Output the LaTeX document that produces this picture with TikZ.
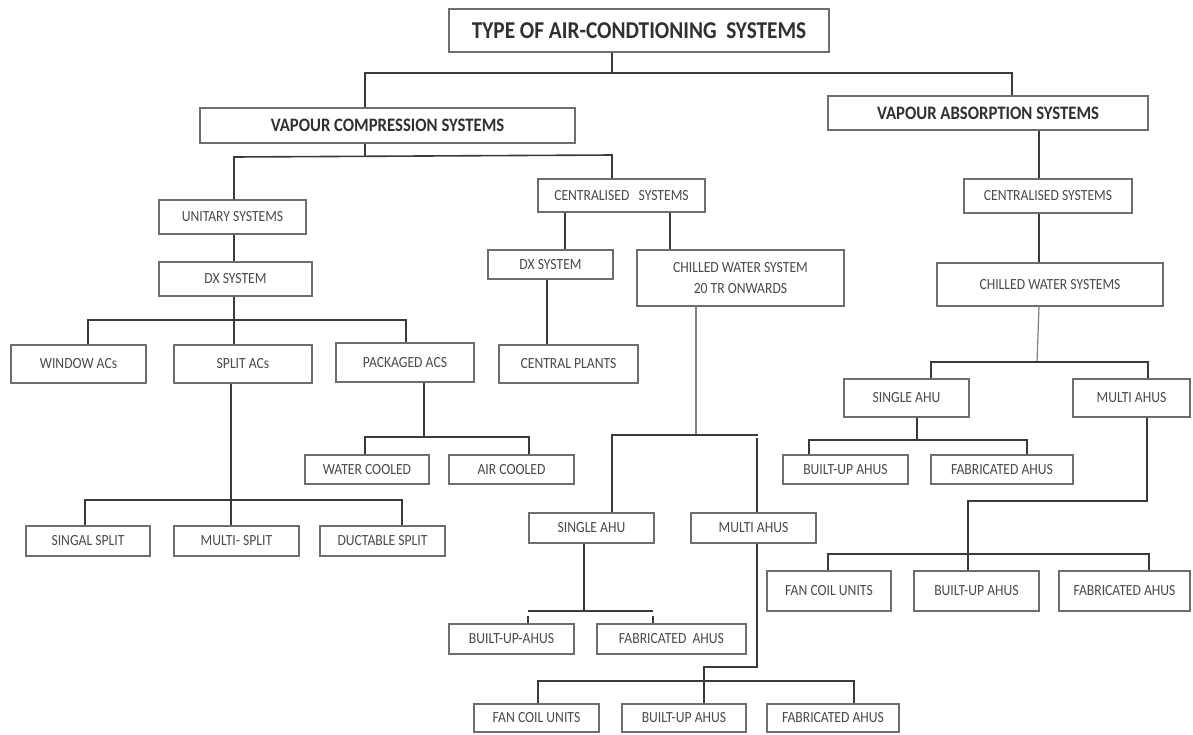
\documentclass[tikz,border=0pt]{standalone}
\usepackage{fontspec}
\setmainfont{Carlito}[FakeStretch=0.88]
\definecolor{boxgray}{HTML}{6E6E6E}
\definecolor{linegray}{HTML}{3A3A3A}
\definecolor{txtgray}{HTML}{4A4A4A}
\definecolor{ttlgray}{HTML}{303030}
\tikzset{
  box/.style={draw=boxgray, line width=1.3pt, fill=white, inner sep=0pt, align=center,
    text=txtgray, font=\fontsize{15.5}{20.5}\selectfont},
  bigbox/.style={box, text=ttlgray, font=\fontsize{19}{22}\selectfont\bfseries},
  ttlbox/.style={box, text=ttlgray, font=\fontsize{24.2}{27}\selectfont\bfseries},
  conn/.style={draw=linegray, line width=1.6pt},
  thinconn/.style={draw=gray, line width=1.2pt}
}
\newcommand\bx[7][]{\node[box,#1,minimum width={(#5-#3)*1pt},minimum height={(#6-#4)*1pt}] (#2) at ({(#3+#5)/2},{(#4+#6)/2}) {#7};}
\begin{document}
\begin{tikzpicture}[x=1pt,y=-1pt]
\useasboundingbox (0,0) rectangle (1193,734);
% ---------- boxes ----------
\bx[ttlbox]{title}{449}{9}{829}{52}{TYPE OF AIR-CONDTIONING\ \ SYSTEMS}
\bx[bigbox]{vc}{200}{108}{575}{143}{VAPOUR COMPRESSION SYSTEMS}
\bx[bigbox]{va}{828}{96}{1148}{130}{VAPOUR ABSORPTION SYSTEMS}
\bx{unit}{159}{200}{306}{234}{UNITARY SYSTEMS}
\bx{dxa}{159}{262}{312}{296}{DX SYSTEM}
\bx{win}{11}{345}{146}{383}{WINDOW ACs}
\bx{split}{174}{345}{312}{383}{SPLIT ACs}
\bx{pack}{336}{343}{474}{382}{PACKAGED ACS}
\bx{ss}{26}{526}{150}{556}{SINGAL SPLIT}
\bx{ms}{174}{526}{299}{556}{MULTI- SPLIT}
\bx{ds}{320}{526}{445}{556}{DUCTABLE SPLIT}
\bx{wc}{305}{455}{429}{484}{WATER COOLED}
\bx{ac}{449}{455}{574}{484}{AIR COOLED}
\bx{csa}{538}{179}{705}{212}{CENTRALISED\ \ \ SYSTEMS}
\bx{dxb}{488}{250}{613}{279}{DX SYSTEM}
\bx{cwa}{637}{250}{844}{306}{CHILLED WATER SYSTEM\\20 TR ONWARDS}
\bx{cp}{499}{345}{638}{383}{CENTRAL PLANTS}
\bx{sahua}{529}{513}{654}{543}{SINGLE AHU}
\bx{mahua}{691}{513}{816}{543}{MULTI AHUS}
\bx{bua}{449}{624}{574}{654}{BUILT-UP-AHUS}
\bx{faba}{597}{624}{746}{654}{FABRICATED\ \ AHUS}
\bx{fcua}{474}{704}{599}{732}{FAN COIL UNITS}
\bx{buab}{622}{704}{746}{732}{BUILT-UP AHUS}
\bx{fabab}{767}{704}{899}{732}{FABRICATED AHUS}
\bx{csb}{964}{179}{1132}{213}{CENTRALISED SYSTEMS}
\bx{cwb}{937}{263}{1163}{306}{CHILLED WATER SYSTEMS}
\bx{sahub}{844}{379}{969}{417}{SINGLE AHU}
\bx{mahub}{1073}{379}{1190}{417}{MULTI AHUS}
\bx{bub}{783}{455}{908}{484}{BUILT-UP AHUS}
\bx{fabb}{931}{455}{1073}{484}{FABRICATED AHUS}
\bx{fcub}{767}{571}{891}{611}{FAN COIL UNITS}
\bx{bubb}{914}{571}{1039}{611}{BUILT-UP AHUS}
\bx{fabbb}{1059}{571}{1190}{611}{FABRICATED AHUS}
% ---------- junction coordinates ----------
\coordinate (t0) at (612,73);  \coordinate (t0l) at (365,73);  \coordinate (t0r) at (1012,73);
\coordinate (v0) at (365,157); \coordinate (v0l) at (234,157); \coordinate (v0r) at (612,155);
\coordinate (d0) at (234,320); \coordinate (d0l) at (88,320);  \coordinate (d0r) at (406,320);
\coordinate (s0) at (231,500); \coordinate (s0l) at (85,500);  \coordinate (s0r) at (402,500);
\coordinate (p0) at (424,437); \coordinate (p0l) at (365,437); \coordinate (p0r) at (529,437);
\coordinate (ca) at (565,0);   \coordinate (cb) at (670,0);    \coordinate (dx) at (547,0);
\coordinate (w0) at (696,435); \coordinate (w0l) at (612,435); \coordinate (w0r) at (757,435);
\coordinate (a0) at (584,611); \coordinate (a0l) at (528,611); \coordinate (a0r) at (653,611);
\coordinate (m0) at (757,667); \coordinate (m1) at (704,667);
\coordinate (m2) at (704,681); \coordinate (m2l) at (538,681); \coordinate (m2r) at (854,681);
\coordinate (vb) at (1039,0);
\coordinate (r0) at (1037,362); \coordinate (r0l) at (931,362); \coordinate (r0r) at (1148,362);
\coordinate (g0) at (917,440); \coordinate (g0l) at (809,440); \coordinate (g0r) at (1027,440);
\coordinate (n0) at (1147,501); \coordinate (n1) at (968,501);
\coordinate (n2) at (968,554); \coordinate (n2l) at (828,554); \coordinate (n2r) at (1149,554);
% ---------- connectors ----------
\draw[conn] (title.south -| t0) -- (t0);
\draw[conn] (vc.north -| t0l) -- (t0l) -- (t0r) -- (va.north -| t0r);
\draw[conn] (vc.south -| v0) -- (v0);
\draw[conn] (unit.north -| v0l) -- (v0l) -- (v0r) -- (csa.north -| v0r);
\draw[conn] (unit.south -| v0l) -- (dxa.north -| v0l);
\draw[conn] (dxa.south -| d0) -- (split.north -| d0);
\draw[conn] (win.north -| d0l) -- (d0l) -- (d0r) -- (pack.north -| d0r);
\draw[conn] (split.south -| s0) -- (ms.north -| s0);
\draw[conn] (ss.north -| s0l) -- (s0l) -- (s0r) -- (ds.north -| s0r);
\draw[conn] (pack.south -| p0) -- (p0);
\draw[conn] (wc.north -| p0l) -- (p0l) -- (p0r) -- (ac.north -| p0r);
\draw[conn] (csa.south -| ca) -- (dxb.north -| ca);
\draw[conn] (csa.south -| cb) -- (cwa.north -| cb);
\draw[conn] (dxb.south -| dx) -- (cp.north -| dx);
\draw[thinconn] (cwa.south -| w0) -- (w0);
\draw[conn] (sahua.north -| w0l) -- (w0l) -- ([xshift=1pt]w0r) ([yshift=-3pt]w0r) -- (mahua.north -| w0r);
\draw[conn] (sahua.south -| a0) -- (a0);
\draw[conn] ([yshift=-5pt]a0l) -- (bua.north -| a0l);
\draw[conn] ([yshift=-5pt]a0r) -- (faba.north -| a0r);
\draw[conn] (a0l) -- (a0r);
\draw[conn] (mahua.south -| m0) -- (m0) -- (m1) -- (buab.north -| m1);
\draw[conn] (fcua.north -| m2l) -- (m2l) -- (m2r) -- ([yshift=-4pt]m2r) (m2r) -- (fabab.north -| m2r);
\draw[conn] (va.south -| vb) -- (csb.north -| vb);
\draw[conn] (csb.south -| vb) -- (cwb.north -| vb);
\draw[thinconn] (cwb.south -| vb) -- (r0);
\draw[conn] (sahub.north -| r0l) -- (r0l) -- (r0r) -- (mahub.north -| r0r);
\draw[conn] (sahub.south -| g0) -- (g0);
\draw[conn] (bub.north -| g0l) -- (g0l) -- (g0r) -- (fabb.north -| g0r);
\draw[conn] (mahub.south -| n0) -- (n0) -- (n1) -- (bubb.north -| n1);
\draw[conn] (fcub.north -| n2l) -- (n2l) -- (n2r) -- ([yshift=-4pt]n2r) (n2r) -- (fabbb.north -| n2r);
\end{tikzpicture}
\end{document}
